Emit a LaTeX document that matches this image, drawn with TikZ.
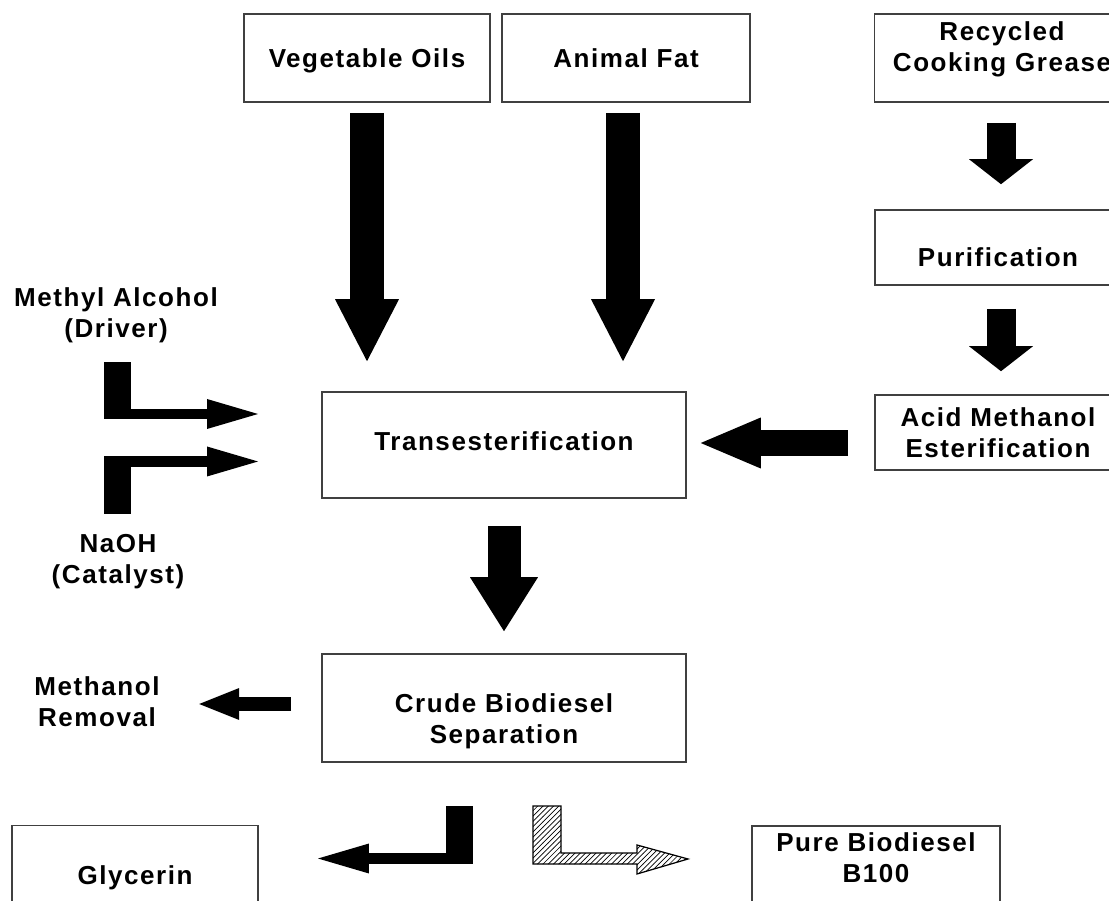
\documentclass[tikz,border=0pt]{standalone}
\usepackage{fontspec}
\setmainfont{Liberation Sans}[LetterSpace=6]
\usetikzlibrary{arrows.meta,calc,patterns}

\begin{document}
\begin{tikzpicture}[x=0.02cm,y=-0.02cm,
  box/.style={draw=black!75,line width=0.9pt,minimum height=1.76cm,inner sep=0pt},
  txt/.style={font=\bfseries\fontsize{14.8}{17.6}\selectfont,align=center},
  single/.style={text height=1.32em,text depth=0.21em},
  bigdown/.style={line width=0.68cm,-{Triangle[length=1.24cm,width=1.28cm,line width=0pt]}},
  smalldown/.style={line width=0.58cm,-{Triangle[length=0.5cm,width=1.28cm,line width=0pt]}},
  middown/.style={line width=0.66cm,-{Triangle[length=1.08cm,width=1.36cm,line width=0pt]}},
  bigleft/.style={line width=0.52cm,-{Triangle[length=1.2cm,width=1.02cm,line width=0pt]}},
  thinleft/.style={line width=0.3cm,-{Triangle[length=0.8cm,width=0.64cm,line width=0pt]}},
  lshaft/.style={line width=0.21cm,-{Triangle[length=1.02cm,width=0.6cm,line width=0pt]}}]
  \clip (0,0) rectangle (1109,901);
  % feedstocks
  \node[box,txt,single,minimum width=4.92cm] (veg) at (367,58) {Vegetable Oils};
  \node[box,txt,single,minimum width=4.96cm] (fat) at (626,58) {Animal Fat};
  \node[box,minimum width=4.94cm] (grease) at (998,58) {};
  \node[txt] (greasetxt) at (1002,49) {Recycled\\Cooking Grease};
  \node[box,minimum width=4.92cm,minimum height=1.5cm] (purif) at (998,247.5) {};
  \node[txt] (puriftxt) at (998,257) {Purification};
  \node[box,txt,minimum width=4.92cm,minimum height=1.5cm] (acid) at (998,432.5) {Acid Methanol\\Esterification};
  % main process
  \node[box,txt,text depth=0.4em,minimum width=7.28cm,minimum height=2.12cm] (trans) at (504,445) {Transesterification};
  \node[box,minimum width=7.28cm,minimum height=2.16cm] (crude) at (504,708) {};
  \node[txt] (crudetxt) at (504,721) {Crude Biodiesel\\Separation};
  \node[box,txt,minimum width=4.92cm,minimum height=2.1cm] (glyc) at (135,878) {Glycerin};
  \node[box,minimum width=4.96cm,minimum height=2.1cm] (pure) at (876,878.5) {};
  \node[txt] (puretxt) at (876,858) {Pure Biodiesel\\B100};
  % side inputs and outputs
  \node[txt] (methyl) at (116,315) {Methyl Alcohol\\(Driver)};
  \node[txt] (naoh) at (118,562) {NaOH\\(Catalyst)};
  \node[txt] (methrem) at (97,702) {Methanol\\Removal};
  % block arrows
  \draw[bigdown] ($(veg.south)+(0,10)$) -- ($(veg.south |- trans.north)+(0,-30)$);
  \draw[bigdown] ($(fat.south)+(-3,10)$) -- ($(fat.south |- trans.north)+(-3,-30)$);
  \draw[smalldown] ($(grease.south)+(3,20)$) -- ($(grease.south |- purif.north)+(3,-25)$);
  \draw[smalldown] ($(purif.south)+(3,23)$) -- ($(purif.south |- acid.north)+(3,-23)$);
  \draw[bigleft] ($(acid.west |- trans.east)+(-26,-2)$) -- ($(trans.east)+(14,-2)$);
  \draw[middown] ($(trans.south)+(0,27)$) -- ($(crude.north)+(0,-22)$);
  \draw[thinleft] ($(crude.west)+(-30,-4)$) -- ($(crude.west)+(-122,-4)$);
  % L-shaped arrows
  \fill (104,362) rectangle (131,419);
  \draw[lshaft] (110,414) -- (258,414);
  \fill (104,456) rectangle (131,514);
  \draw[lshaft] (110,461.5) -- (258,461.5);
  \fill (446,806) rectangle (473,864);
  \draw[lshaft] (467,858.5) -- (318,858.5);
  \draw[line width=0.7pt,pattern=north east lines] (533,806) -- (561,806) -- (561,853)
    -- (637,853) -- (637,845) -- (688,859) -- (637,874) -- (637,864) -- (533,864) -- cycle;
\end{tikzpicture}
\end{document}
